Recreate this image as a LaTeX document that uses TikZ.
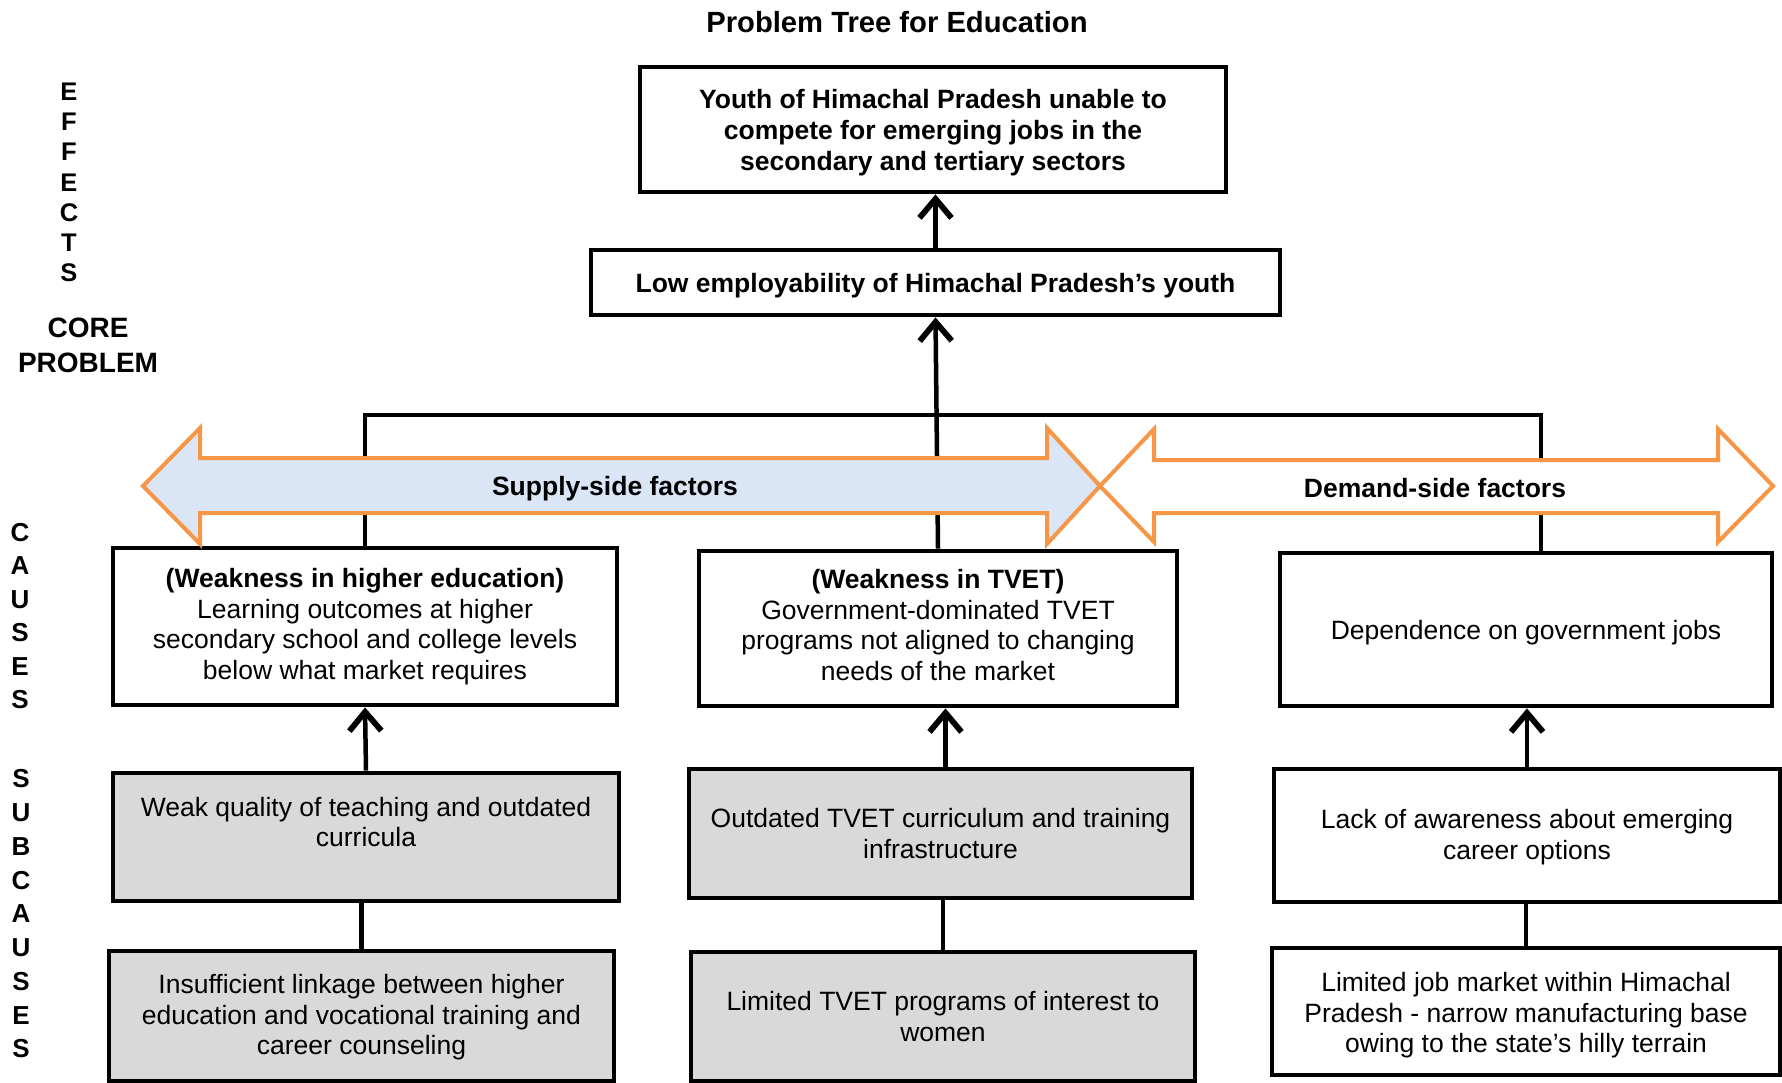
\documentclass[tikz,border=0pt]{standalone}
\usepackage{fontspec}
\setmainfont{Liberation Sans}
\usetikzlibrary{arrows.meta}
\definecolor{orangeline}{HTML}{F79646}
\definecolor{supplyfill}{HTML}{DAE6F5}
\definecolor{greybox}{HTML}{D9D9D9}
\newcommand\shiftlines[2]{\raisebox{#1}[\height][\depth]{\begin{tabular}{@{}c@{}}#2\end{tabular}}}
\tikzset{
  box/.style={draw=black, line width=4.8pt, fill=white, inner sep=0pt, align=center,
    font=\fontsize{26.5}{30.5}\selectfont},
  greyfill/.style={fill=greybox},
  boldtext/.style={font=\fontsize{26.5}{31}\selectfont\bfseries, align=center, inner sep=0pt},
  conn/.style={line width=4.5pt, draw=black},
  uparrow/.style={conn, -{Straight Barb[length=19pt,width=32pt,line width=5.8pt]}},
  bigarrow/.style={draw=orangeline, line width=4pt, line join=miter},
  sidelabel/.style={align=center, inner sep=0pt},
}
\begin{document}
\begin{tikzpicture}[x=1pt,y=-1pt]
\useasboundingbox (0,0) rectangle (1782,1083);

% title
\node[boldtext, font=\fontsize{29.2}{34}\selectfont\bfseries] (title) at (897,22) {Problem Tree for Education};

% side labels
\node[sidelabel, font=\fontsize{25.5}{30.2}\selectfont\bfseries] (effects) at (69,182.5) {E\\F\\F\\E\\C\\T\\S};
\node[sidelabel, font=\fontsize{28}{35}\selectfont\bfseries] (corelbl) at (88,345.5) {CORE\\PROBLEM};
\node[sidelabel, font=\fontsize{26}{33.4}\selectfont\bfseries] (causes) at (20,616) {C\\A\\U\\S\\E\\S};
\node[sidelabel, font=\fontsize{26}{33.75}\selectfont\bfseries] (subcauses) at (21,914) {S\\U\\B\\C\\A\\U\\S\\E\\S};

% effect and core problem
\node[box, boldtext, minimum width=586pt, minimum height=125pt] (top) at (933,129.5)
  {\shiftlines{-3.4pt}{Youth of Himachal Pradesh unable to\\compete for emerging jobs in the\\secondary and tertiary sectors}};
\node[box, boldtext, minimum width=689pt, minimum height=65pt] (core) at (935.5,282.5)
  {\shiftlines{-3.4pt}{Low employability of Himachal Pradesh’s youth}};

% causes
\node[box, minimum width=504pt, minimum height=157pt] (hed) at (365,626.5)
  {\textbf{(Weakness in higher education)}\\Learning outcomes at higher\\secondary school and college levels\\below what market requires};
\node[box, minimum width=478pt, minimum height=155pt] (tvet) at (938,628.5)
  {\shiftlines{0pt}{\textbf{(Weakness in TVET)}\\Government-dominated TVET\\programs not aligned to changing\\needs of the market}};
\node[box, minimum width=492pt, minimum height=153pt] (dep) at (1526,629.5)
  {\shiftlines{-3.4pt}{Dependence on government jobs}};

% sub-causes
\node[box, greyfill, minimum width=506pt, minimum height=128pt] (weak) at (366,837)
  {Weak quality of teaching and outdated\\curricula\\\mbox{}};
\node[box, greyfill, minimum width=503pt, minimum height=129pt] (outd) at (940.5,833.5)
  {Outdated TVET curriculum and training\\infrastructure};
\node[box, minimum width=506pt, minimum height=133pt] (lack) at (1527,835.5)
  {\shiftlines{-2.3pt}{Lack of awareness about emerging\\career options}};
\node[box, greyfill, minimum width=505pt, minimum height=130pt] (insuf) at (361.5,1016)
  {\shiftlines{-2.3pt}{Insufficient linkage between higher\\education and vocational training and\\career counseling}};
\node[box, greyfill, minimum width=504pt, minimum height=129pt] (ltvet) at (943,1016.5)
  {Limited TVET programs of interest to\\women};
\node[box, minimum width=508pt, minimum height=127pt] (ljob) at (1526,1011.5)
  {\shiftlines{-4.5pt}{Limited job market within Himachal\\Pradesh - narrow manufacturing base\\owing to the state’s hilly terrain}};

% connectors
\coordinate (barL) at (364,415);
\coordinate (barR) at (1541,415);
\draw[conn] (hed.north) -- (hed.north |- barL) -- (barR) -- (barR |- dep.north);
\draw[uparrow] (tvet.north) -- (core.south);
\draw[uparrow] (core.north) -- (core.north |- top.south);
\draw[uparrow] (weak.north) -- (hed.south);
\draw[conn] (insuf.north) -- (insuf.north |- weak.south);
\draw[uparrow] ([xshift=5pt]outd.north) -- ([xshift=5pt]outd.north |- tvet.south);
\draw[conn] (ltvet.north) -- (ltvet.north |- outd.south);
\draw[uparrow] (lack.north) -- (lack.north |- dep.south);
\draw[conn] (ljob.north) -- (ljob.north |- lack.south);

% supply-side and demand-side arrows
\filldraw[bigarrow, fill=supplyfill] (143,486) -- (200,428) -- (200,458) -- (1047,458) -- (1047,428)
  -- (1100,486) -- (1047,544) -- (1047,513) -- (200,513) -- (200,544) -- cycle;
\filldraw[bigarrow, fill=white] (1100,486) -- (1154,429) -- (1154,460) -- (1718,460) -- (1718,429)
  -- (1773,486) -- (1718,542) -- (1718,513) -- (1154,513) -- (1154,542) -- cycle;
\node[boldtext] (supply) at (615,489) {Supply-side factors};
\node[boldtext] (demand) at (1435,488) {Demand-side factors};
\end{tikzpicture}
\end{document}
